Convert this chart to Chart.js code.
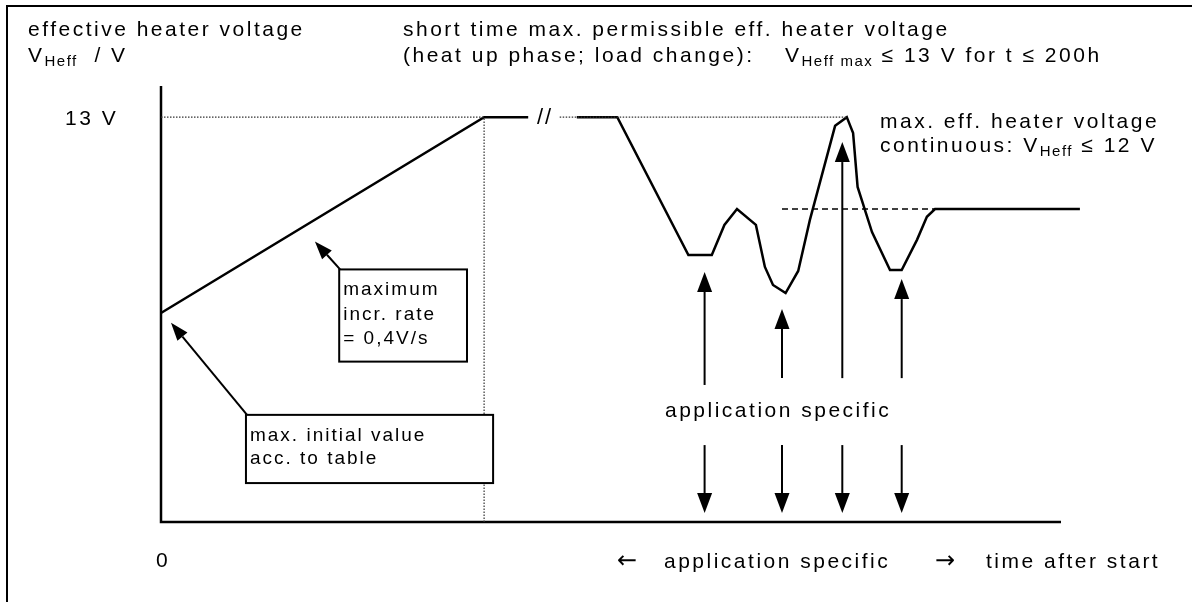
<!DOCTYPE html>
<html>
<head>
<meta charset="utf-8">
<script src="https://cdn.jsdelivr.net/npm/chart.js@4"></script>
<style>
  html, body { margin: 0; padding: 0; background: #fff; }
</style>
</head>
<body>
<canvas id="heaterChart" width="1192" height="602"></canvas>
<script>
// heat-up ramp (time in arbitrary units, voltage in V)
const rampTime = [0, 35.9, 40.8];
const rampVolt = [6.71, 13, 13];

// load-change profile after the axis break
const profileTime = [46.2, 50.7, 58.6, 61.2, 62.6, 64.0, 66.1, 67.1, 68.0, 69.4, 70.8, 72.1,
                     74.9, 76.2, 76.9, 77.4, 79.0, 81.0, 82.3, 84.0, 85.1, 86.0, 102.1];
const profileVolt = [13, 13, 8.57, 8.57, 9.54, 10.05, 9.54, 8.19, 7.61, 7.35, 8.06, 9.70,
                     12.72, 13, 12.49, 10.76, 9.31, 8.09, 8.09, 9.06, 9.80, 10.05, 10.05];

// reference levels
const maxVolt = 13;
const contVolt = 10.05;
const contLineTime = [69.0, 86.0];
const rampEndTime = 35.9;
const maxLineLeft = [0, 35.9];
const maxLineRight = [44.3, 76.2];

// "application specific" arrows
const arrowTime = [60.4, 69.0, 75.7, 82.3];
const arrowUpFrom = [4.40, 4.62, 4.62, 4.62];
const arrowUpTo = [8.03, 6.84, 12.2, 7.80];
const arrowDownFrom = 2.47;
const arrowDownTo = 0.29;

const tickLabels = ['0', '13 V'];

const pts = (xs, ys) => xs.map((x, i) => ({ x: x, y: ys[i] }));
const level = (xs, y) => xs.map(x => ({ x: x, y: y }));

const FONT = '"Liberation Sans", Arial, sans-serif';
const INK = '#000';

function drawArrow(ctx, x1, y1, x2, y2, len, wid, lw) {
  const a = Math.atan2(y2 - y1, x2 - x1);
  const bx = x2 - Math.cos(a) * len, by = y2 - Math.sin(a) * len;
  ctx.lineWidth = lw;
  ctx.beginPath();
  ctx.moveTo(x1, y1);
  ctx.lineTo(bx, by);
  ctx.stroke();
  ctx.beginPath();
  ctx.moveTo(x2, y2);
  ctx.lineTo(bx + Math.sin(a) * wid / 2, by - Math.cos(a) * wid / 2);
  ctx.lineTo(bx - Math.sin(a) * wid / 2, by + Math.cos(a) * wid / 2);
  ctx.closePath();
  ctx.fill();
}

// draws text pieces one after another, subscripts smaller and lower
function drawRuns(ctx, x, y, runs) {
  let cx = x;
  runs.forEach(r => {
    if (r.at !== undefined) cx = r.at;
    if (r.sub) {
      ctx.font = '15px ' + FONT;
      ctx.letterSpacing = '1.5px';
      ctx.fillText(r.t, cx, y + 4);
    } else if (r.arrow) {
      ctx.font = '24px "DejaVu Sans", sans-serif';
      ctx.letterSpacing = '0px';
      ctx.fillText(r.t, cx, y);
    } else {
      ctx.font = '21px ' + FONT;
      ctx.letterSpacing = '2.5px';
      ctx.fillText(r.t, cx, y);
    }
    cx += ctx.measureText(r.t).width;
  });
}

function textBox(ctx, x1, y1, x2, y2, lines, lineGap) {
  ctx.fillStyle = '#fff';
  ctx.fillRect(x1, y1, x2 - x1, y2 - y1);
  ctx.strokeStyle = '#000';
  ctx.lineWidth = 2;
  ctx.strokeRect(x1, y1, x2 - x1, y2 - y1);
  ctx.fillStyle = INK;
  ctx.font = '19px ' + FONT;
  ctx.letterSpacing = '2px';
  lines.forEach((s, i) => ctx.fillText(s, x1 + 4, y1 + 26 + i * lineGap));
}

const diagram = {
  id: 'diagram',
  beforeDatasetsDraw(chart) {
    const ctx = chart.ctx;
    const X = v => chart.scales.x.getPixelForValue(v);
    const Y = v => chart.scales.y.getPixelForValue(v);
    ctx.save();
    ctx.strokeStyle = '#000';
    // page frame
    ctx.lineWidth = 2;
    ctx.beginPath();
    ctx.moveTo(7, 602);
    ctx.lineTo(7, 6);
    ctx.lineTo(1192, 6);
    ctx.stroke();
    // axes
    ctx.lineWidth = 2.5;
    ctx.beginPath();
    ctx.moveTo(X(0), Y(14));
    ctx.lineTo(X(0), Y(0));
    ctx.lineTo(X(100), Y(0));
    ctx.stroke();
    ctx.restore();
  },
  afterDatasetsDraw(chart) {
    const ctx = chart.ctx;
    const X = v => chart.scales.x.getPixelForValue(v);
    const Y = v => chart.scales.y.getPixelForValue(v);
    ctx.save();
    ctx.strokeStyle = '#000';
    ctx.textBaseline = 'alphabetic';

    // vertical arrows
    ctx.fillStyle = '#000';
    arrowTime.forEach((t, i) => {
      drawArrow(ctx, X(t), Y(arrowUpFrom[i]), X(t), Y(arrowUpTo[i]), 20, 15, 2);
      drawArrow(ctx, X(t), Y(arrowDownFrom), X(t), Y(arrowDownTo), 20, 15, 2);
    });

    // annotation arrows and boxes
    drawArrow(ctx, X(9.56), Y(3.44), X(1.11), Y(6.40), 18, 13, 2);
    drawArrow(ctx, X(19.9), Y(8.11), X(17.1), Y(9.01), 18, 13, 2);
    textBox(ctx, X(9.44), Y(3.44), X(36.9), Y(1.25), ['max. initial value', 'acc. to table'], 23);
    textBox(ctx, X(19.8), Y(8.11), X(34.0), Y(5.15), ['maximum', 'incr. rate', '= 0,4V/s'], 24.5);

    // axis break mark
    ctx.fillStyle = INK;
    ctx.font = '22px ' + FONT;
    ctx.letterSpacing = '2px';
    ctx.fillText('//', 537, 124);

    // header texts
    drawRuns(ctx, 28, 36, [{ t: 'effective heater voltage' }]);
    drawRuns(ctx, 28, 62, [{ t: 'V' }, { t: 'Heff', sub: true }, { t: '  / V' }]);
    drawRuns(ctx, 403, 36, [{ t: 'short time max. permissible eff. heater voltage' }]);
    drawRuns(ctx, 403, 62, [{ t: '(heat up phase; load change):' },
                            { t: 'V', at: 785 }, { t: 'Heff max', sub: true }, { t: ' \u2264 13 V for t \u2264 200h' }]);
    drawRuns(ctx, 880, 128, [{ t: 'max. eff. heater voltage' }]);
    drawRuns(ctx, 880, 152, [{ t: 'continuous: ' }, { t: 'V' }, { t: 'Heff', sub: true }, { t: ' \u2264 12 V' }]);

    // tick labels
    drawRuns(ctx, 65, Y(maxVolt) + 8, [{ t: tickLabels[1] }]);
    drawRuns(ctx, 156, 567, [{ t: tickLabels[0] }]);

    // mid and bottom labels
    drawRuns(ctx, 665, 417, [{ t: 'application specific' }]);
    drawRuns(ctx, 617, 568, [{ t: '\u2190', arrow: true }, { t: 'application specific', at: 664 },
                             { t: '\u2192', arrow: true, at: 935 }, { t: 'time after start', at: 986 }]);
    ctx.restore();
  }
};

const ctx = document.getElementById('heaterChart').getContext('2d');
const heaterChart = new Chart(ctx, {
  type: 'line',
  data: {
    datasets: [
      { data: level(maxLineLeft, maxVolt), borderColor: '#333', borderWidth: 1.2, borderDash: [1.5, 1.5] },
      { data: level(maxLineRight, maxVolt), borderColor: '#333', borderWidth: 1.2, borderDash: [1.5, 1.5] },
      { data: [{ x: rampEndTime, y: 0 }, { x: rampEndTime, y: maxVolt }], borderColor: '#333', borderWidth: 1.2, borderDash: [1.5, 1.5] },
      { data: level(contLineTime, contVolt), borderColor: '#000', borderWidth: 1.5, borderDash: [6, 4] },
      { data: pts(rampTime, rampVolt), borderColor: '#000', borderWidth: 2.5 },
      { data: pts(profileTime, profileVolt), borderColor: '#000', borderWidth: 2.5 }
    ]
  },
  options: {
    responsive: false,
    animation: false,
    clip: false,
    layout: { padding: { left: 161, right: 41, top: 86, bottom: 80 } },
    elements: { point: { radius: 0, hoverRadius: 0 }, line: { tension: 0, fill: false } },
    plugins: { legend: { display: false }, tooltip: { enabled: false } },
    scales: {
      x: { type: 'linear', min: 0, max: 110, display: false },
      y: { min: 0, max: 14, display: false }
    }
  },
  plugins: [diagram]
});
</script>
</body>
</html>
